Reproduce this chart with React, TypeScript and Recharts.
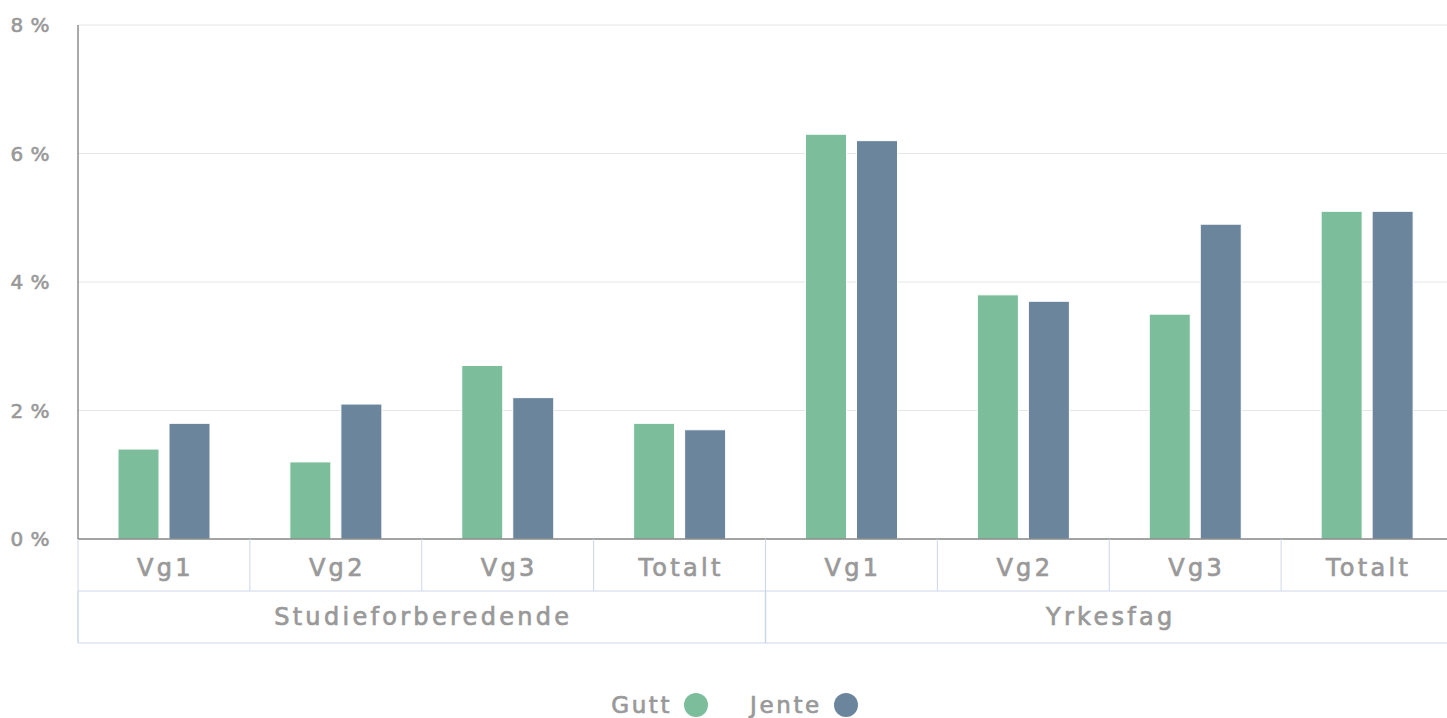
import React from 'react';
import { BarChart, Bar, XAxis, YAxis, CartesianGrid, Legend } from 'recharts';

const categories = ['Vg1', 'Vg2', 'Vg3', 'Totalt', 'Vg1', 'Vg2', 'Vg3', 'Totalt'];
const groups = ['Studieforberedende', 'Studieforberedende', 'Studieforberedende', 'Studieforberedende', 'Yrkesfag', 'Yrkesfag', 'Yrkesfag', 'Yrkesfag'];
const guttValues = [1.4, 1.2, 2.7, 1.8, 6.3, 3.8, 3.5, 5.1];
const jenteValues = [1.8, 2.1, 2.2, 1.7, 6.2, 3.7, 4.9, 5.1];
const yTicks = [0, 2, 4, 6, 8];

const seriesNames = ['Gutt', 'Jente'];
const seriesColors = ['#7cbe9b', '#6b869c'];

const data = categories.map((c, i) => ({
  key: `${groups[i]}-${c}-${i}`,
  cat: c,
  group: groups[i],
  Gutt: guttValues[i],
  Jente: jenteValues[i],
}));

const VIEW_W = 1447;
const W = 1453;
const H = 718;
const Y_AXIS_W = 78;
const ROW_H = 52;
const FONT = '"DejaVu Sans", sans-serif';
const TEXT_COLOR = '#999999';
const CELL_LINE = '#ccd6eb';

const plotWidth = W - Y_AXIS_W;

const labelStyle = {
  fill: TEXT_COLOR,
  stroke: TEXT_COLOR,
  strokeWidth: 0.7,
  fontSize: 24,
  fontFamily: FONT,
  letterSpacing: 3.3,
};

const CatTick = (props: any) => {
  const { x, y, payload, index } = props;
  const half = payload && typeof payload.offset === 'number' && payload.offset > 0 ? payload.offset : plotWidth / categories.length / 2;
  const label = categories[payload?.index ?? index] ?? payload.value;
  return (
    <g>
      <line x1={x - half} y1={y} x2={x - half} y2={y + ROW_H} stroke={CELL_LINE} strokeWidth={1} />
      <line x1={x - half} y1={y + ROW_H} x2={x + half} y2={y + ROW_H} stroke={CELL_LINE} strokeWidth={1} />
      <text x={x + 1.5} y={y + ROW_H / 2 + 3} textAnchor="middle" dominantBaseline="central" {...labelStyle}>
        {label}
      </text>
    </g>
  );
};

const GroupTick = (props: any) => {
  const { x, y, payload } = props;
  const half = payload && typeof payload.offset === 'number' && payload.offset > 0 ? payload.offset : plotWidth / 4;
  return (
    <g>
      <line x1={x - half} y1={y} x2={x - half} y2={y + ROW_H} stroke={CELL_LINE} strokeWidth={1.5} />
      <line x1={x - half} y1={y + ROW_H} x2={x + half} y2={y + ROW_H} stroke={CELL_LINE} strokeWidth={1} />
      <text x={x + 1.5} y={y + ROW_H / 2} textAnchor="middle" dominantBaseline="central" {...labelStyle}>
        {payload.value}
      </text>
    </g>
  );
};

const LegendContent = () => (
  <div
    style={{
      height: H - 643,
      display: 'flex',
      justifyContent: 'center',
      alignItems: 'flex-start',
      paddingTop: 50,
      paddingLeft: 16,
      boxSizing: 'border-box',
      fontFamily: FONT,
    }}
  >
    {seriesNames.map((n, i) => (
      <div key={n} style={{ display: 'flex', alignItems: 'center', marginLeft: i === 0 ? 0 : 42 }}>
        <span
          style={{
            color: TEXT_COLOR,
            fontSize: 23,
            letterSpacing: 2.6,
            lineHeight: '22px',
            WebkitTextStroke: `0.7px ${TEXT_COLOR}`,
          }}
        >
          {n}
        </span>
        <span
          style={{
            display: 'inline-block',
            width: 24,
            height: 24,
            borderRadius: '50%',
            background: seriesColors[i],
            marginLeft: 12,
          }}
        />
      </div>
    ))}
  </div>
);

export default function App() {
  return (
    <div style={{ position: 'absolute', left: 0, top: 0, width: VIEW_W, height: H, overflow: 'hidden', background: '#fff' }}>
      <BarChart
        width={W}
        height={H}
        data={data}
        margin={{ top: 25, right: 0, left: 0, bottom: 0 }}
        barSize={41}
        barGap={10}
      >
        <CartesianGrid vertical={false} stroke="#e6e6e6" strokeWidth={1} />
        <XAxis
          dataKey="key"
          xAxisId={0}
          height={ROW_H}
          tickLine={false}
          tickSize={0}
          tickMargin={0}
          axisLine={{ stroke: '#555555', strokeWidth: 1 }}
          interval={0}
          tick={<CatTick />}
        />
        <XAxis
          dataKey="group"
          xAxisId="group"
          height={ROW_H}
          allowDuplicatedCategory={false}
          tickLine={false}
          tickSize={0}
          tickMargin={0}
          axisLine={false}
          interval={0}
          tick={<GroupTick />}
        />
        <YAxis
          width={Y_AXIS_W}
          domain={[0, 8]}
          ticks={yTicks}
          tickFormatter={(v: number) => `${v} %`}
          tickLine={false}
          tickSize={0}
          tickMargin={28}
          axisLine={{ stroke: '#555555', strokeWidth: 1 }}
          tick={{ fill: TEXT_COLOR, stroke: TEXT_COLOR, strokeWidth: 0.6, fontSize: 20, fontFamily: FONT, letterSpacing: 0.5 }}
        />
        <Legend verticalAlign="bottom" content={<LegendContent />} />
        {seriesNames.map((n, i) => (
          <Bar
            key={n}
            dataKey={n}
            xAxisId={0}
            fill={seriesColors[i]}
            stroke="#ffffff"
            strokeWidth={1}
            isAnimationActive={false}
          />
        ))}
      </BarChart>
    </div>
  );
}
